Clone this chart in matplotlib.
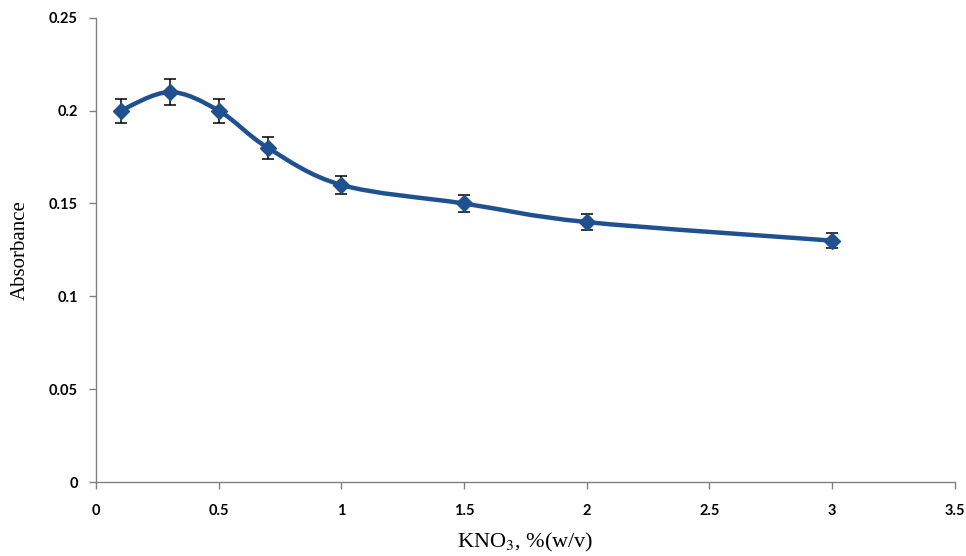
import matplotlib
matplotlib.use("Agg")
import matplotlib.pyplot as plt
from matplotlib.path import Path
from matplotlib.patches import PathPatch
from matplotlib.ticker import FormatStrFormatter

plt.rcParams["mathtext.fontset"] = "stix"

# KNO3 concentration vs absorbance
kno3 = [0.1, 0.3, 0.5, 0.7, 1.0, 1.5, 2.0, 3.0]
absorbance = [0.200, 0.210, 0.200, 0.180, 0.160, 0.150, 0.140, 0.130]
err = [0.0065, 0.0068, 0.0065, 0.006, 0.005, 0.0048, 0.0045, 0.0040]

blue = "#1f5190"


def smooth_path(x, y, t=1 / 6):
    # Excel-style smoothed line: cubic Bezier segments (Catmull-Rom control points)
    verts = [(x[0], y[0])]
    codes = [Path.MOVETO]
    n = len(x)
    for i in range(n - 1):
        x0, y0 = (x[i - 1], y[i - 1]) if i > 0 else (x[i], y[i])
        x3, y3 = (x[i + 2], y[i + 2]) if i + 2 < n else (x[i + 1], y[i + 1])
        c1 = (x[i] + (x[i + 1] - x0) * t, y[i] + (y[i + 1] - y0) * t)
        c2 = (x[i + 1] - (x3 - x[i]) * t, y[i + 1] - (y3 - y[i]) * t)
        verts += [c1, c2, (x[i + 1], y[i + 1])]
        codes += [Path.CURVE4] * 3
    return Path(verts, codes)


fig = plt.figure(figsize=(9.66, 5.56), dpi=100)
ax = fig.add_axes([0.0994, 0.133, 0.889, 0.835])

ax.add_patch(PathPatch(smooth_path(kno3, absorbance), fill=False, edgecolor=blue,
                       linewidth=3.2, capstyle="round", zorder=2))
ax.errorbar(kno3, absorbance, yerr=err, fmt="D", color=blue, markersize=8,
            ecolor="black", elinewidth=1.1, capsize=4, capthick=1.1, zorder=3)

ax.set_xlim(0, 3.5)
ax.set_ylim(0, 0.25)
ax.set_xticks([0, 0.5, 1, 1.5, 2, 2.5, 3, 3.5])
ax.set_yticks([0, 0.05, 0.1, 0.15, 0.2, 0.25])
ax.xaxis.set_major_formatter(FormatStrFormatter("%g"))
ax.yaxis.set_major_formatter(FormatStrFormatter("%g"))

for s in ["top", "right"]:
    ax.spines[s].set_visible(False)
for s in ["left", "bottom"]:
    ax.spines[s].set_color("#808080")
    ax.spines[s].set_linewidth(1.0)

ax.tick_params(direction="out", length=5, color="#808080", width=1.0)
ax.tick_params(axis="x", pad=11)
ax.tick_params(axis="y", pad=8)
for lab in ax.get_xticklabels() + ax.get_yticklabels():
    lab.set_fontfamily("Lato")
    lab.set_fontweight("bold")
    lab.set_fontsize(10.5)

ax.set_xlabel("KNO$_3$, %(w/v)", family="Liberation Serif", fontsize=16, labelpad=9)
ax.set_ylabel("Absorbance", family="Liberation Serif", fontsize=15, labelpad=14)

fig.savefig("out.png", dpi=100)
